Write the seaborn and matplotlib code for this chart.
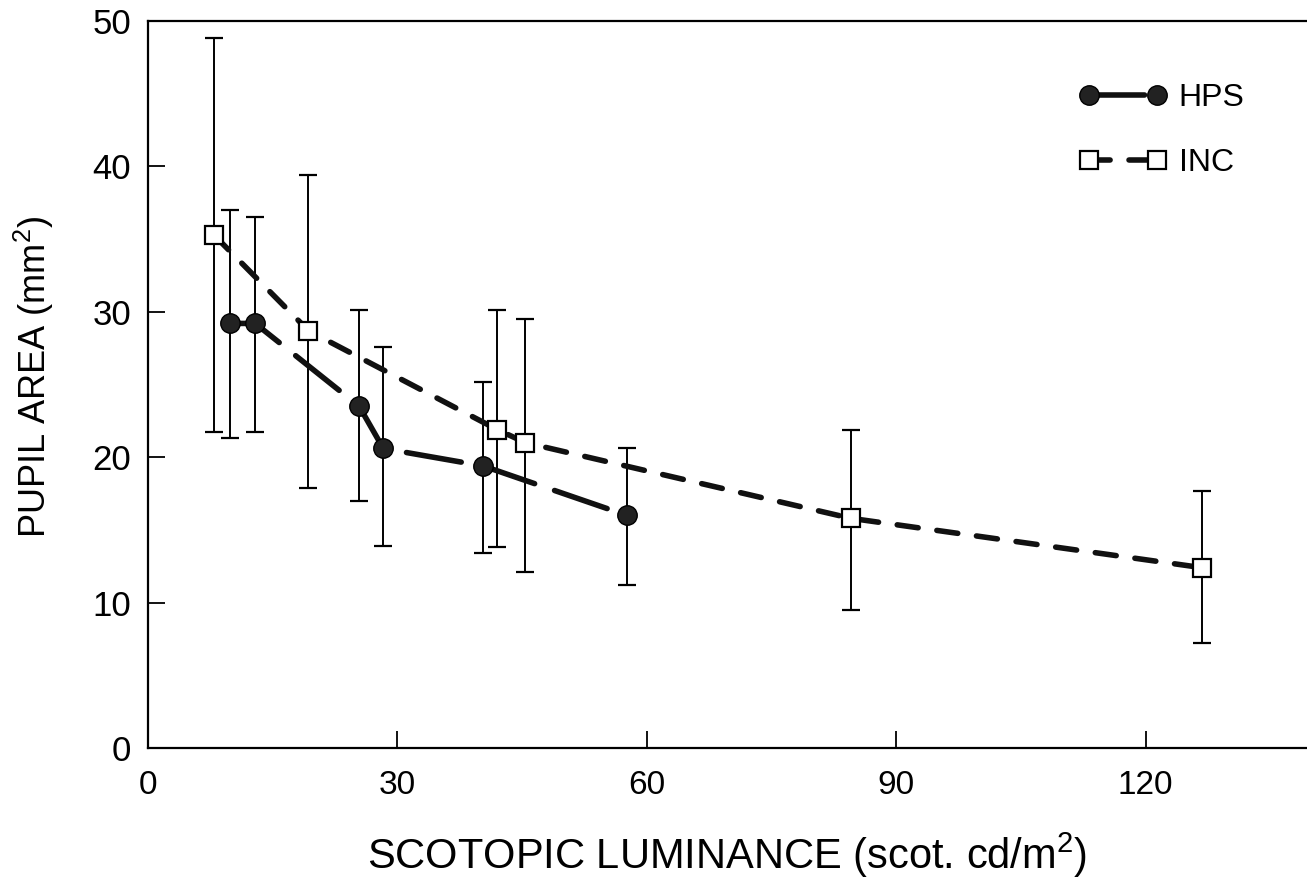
import numpy as np
import pandas as pd
import matplotlib
matplotlib.use("Agg")
import matplotlib.pyplot as plt
import seaborn as sns

# HPS (high pressure sodium) lamps
hps_x = [9.9, 12.9, 25.4, 28.3, 40.3, 57.6]
hps_y = [29.2, 29.2, 23.5, 20.6, 19.4, 16.0]
hps_hi = [37.0, 36.5, 30.1, 27.6, 25.2, 20.6]
hps_lo = [21.3, 21.7, 17.0, 13.9, 13.4, 11.2]

# INC (incandescent) lamps
inc_x = [7.9, 19.3, 42.0, 45.4, 84.5, 126.8]
inc_y = [35.3, 28.7, 21.9, 21.0, 15.8, 12.4]
inc_hi = [48.8, 39.4, 30.1, 29.5, 21.9, 17.7]
inc_lo = [21.7, 17.9, 13.8, 12.1, 9.5, 7.2]

xticks = [0, 30, 60, 90, 120]
yticks = [0, 10, 20, 30, 40, 50]

sns.set_style("ticks")
plt.rcParams["font.family"] = ["Liberation Sans", "DejaVu Sans"]
plt.rcParams["mathtext.default"] = "regular"
plt.rcParams["text.color"] = "black"
plt.rcParams["axes.labelcolor"] = "black"
plt.rcParams["xtick.color"] = "black"
plt.rcParams["ytick.color"] = "black"

fig = plt.figure(figsize=(13.07, 8.82), dpi=100)
ax = fig.add_axes([148 / 1307, 134 / 882, 1159 / 1307, 727 / 882])

# error bars first, so markers sit on top
for x, y, hi, lo in [(hps_x, hps_y, hps_hi, hps_lo), (inc_x, inc_y, inc_hi, inc_lo)]:
    y = np.array(y)
    yerr = [y - np.array(lo), np.array(hi) - y]
    ax.errorbar(x, y, yerr=yerr, fmt="none", ecolor="black", elinewidth=1.4,
                capsize=6.5, capthick=1.6, zorder=2)

sns.lineplot(x=hps_x, y=hps_y, ax=ax, color="#111111", lw=4,
             linestyle=(0, (10, 3.8)), dash_capstyle="round",
             marker="o", markersize=14, markerfacecolor="#222222",
             markeredgecolor="black", markeredgewidth=1.0,
             errorbar=None, sort=False, label="HPS", zorder=3)
sns.lineplot(x=inc_x, y=inc_y, ax=ax, color="#111111", lw=4,
             linestyle=(0, (3.8, 3.4)), dash_capstyle="round",
             marker="s", markersize=13, markerfacecolor="white",
             markeredgecolor="black", markeredgewidth=1.6,
             errorbar=None, sort=False, label="INC", zorder=3)

ax.set_xlim(0, 139.4)
ax.set_ylim(0, 50)
ax.set_xticks(xticks)
ax.set_yticks(yticks)
ax.tick_params(axis="both", direction="in", length=12, width=1.3, colors="black")
ax.tick_params(axis="x", labelsize=24, pad=16)
ax.tick_params(axis="y", labelsize=25, pad=12)
# no tick at the top of the y axis in the original
ax.yaxis.get_major_ticks()[-1].tick1line.set_visible(False)

for side in ["left", "bottom", "top"]:
    ax.spines[side].set_linewidth(1.6)
    ax.spines[side].set_color("black")
ax.spines["right"].set_visible(False)

ax.set_xlabel("SCOTOPIC LUMINANCE (scot. cd/m$^2$)", fontsize=30, color="black")
ax.xaxis.set_label_coords(0.5, -0.113)
ax.set_ylabel("PUPIL AREA (mm$^2$)", fontsize=26, color="black")
ax.yaxis.set_label_coords(-0.079, 0.51)

leg = ax.legend(loc="upper left", bbox_to_anchor=(0.804, 0.915), frameon=False,
                fontsize=23, numpoints=2, handlelength=2.7, handletextpad=0.4,
                labelspacing=1.1, borderpad=0, borderaxespad=0)
for t in leg.get_texts():
    t.set_color("black")

fig.savefig("out.png", dpi=100)
